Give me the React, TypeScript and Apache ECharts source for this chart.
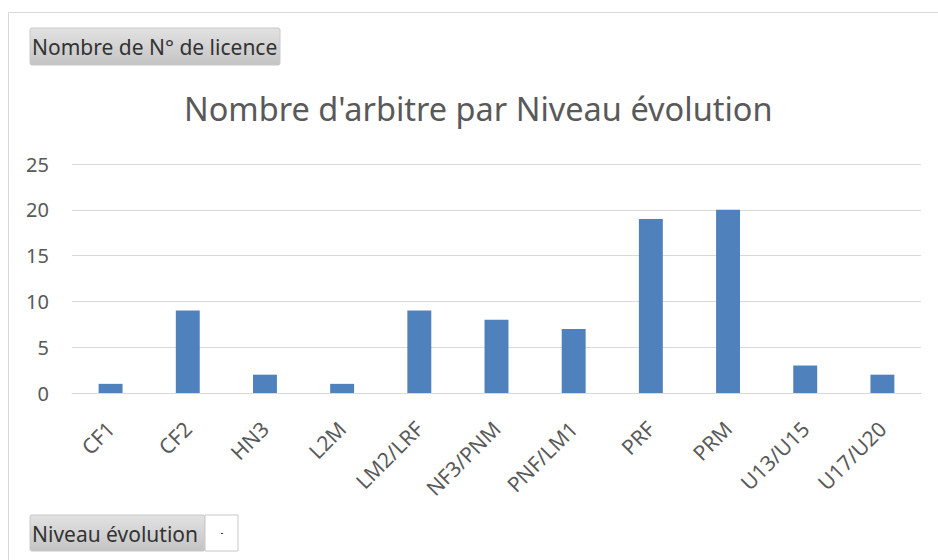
import React, { useEffect, useRef } from "react";
import * as echarts from "echarts";

const categories = ["CF1", "CF2", "HN3", "L2M", "LM2/LRF", "NF3/PNM", "PNF/LM1", "PRF", "PRM", "U13/U15", "U17/U20"];
const values = [1, 9, 2, 1, 9, 8, 7, 19, 20, 3, 2];
const yTicks = [0, 5, 10, 15, 20, 25];
const titleText = "Nombre d'arbitre par Niveau évolution";
const topButtonText = "Nombre de N° de licence";
const bottomButtonText = "Niveau évolution";

const FONT = "Noto Sans, DejaVu Sans, sans-serif";

export default function App() {
  const ref = useRef<HTMLDivElement>(null);
  useEffect(() => {
    if (!ref.current) return;
    const chart = echarts.init(ref.current, undefined, { renderer: "svg" });
    const grad = new echarts.graphic.LinearGradient(0, 0, 0, 1, [
      { offset: 0, color: "#e2e2e2" },
      { offset: 1, color: "#c4c4c4" },
    ]);
    chart.setOption({
      animation: false,
      backgroundColor: "#ffffff",
      title: {
        text: titleText,
        left: 179,
        top: 87,
        textStyle: { fontFamily: FONT, fontSize: 32.5, fontWeight: "normal", color: "#595959" },
      },
      grid: { left: 72, right: 17, top: 164, bottom: 167, containLabel: false },
      xAxis: {
        type: "category",
        data: categories,
        axisLine: { lineStyle: { color: "#d9d9d9", width: 1 } },
        axisTick: { show: false },
        axisLabel: {
          rotate: 45,
          interval: 0,
          color: "#595959",
          fontFamily: FONT,
          fontSize: 21,
          margin: 32,
        },
      },
      yAxis: {
        type: "value",
        min: yTicks[0],
        max: yTicks[yTicks.length - 1],
        interval: 5,
        axisLine: { show: false },
        axisTick: { show: false },
        splitLine: { lineStyle: { color: "#d9d9d9", width: 1 } },
        axisLabel: { color: "#595959", fontFamily: FONT, fontSize: 20, margin: 23 },
      },
      series: [
        {
          type: "bar",
          data: values,
          barWidth: "31%",
          itemStyle: { color: "#4f81bd" },
        },
      ],
      graphic: [
        {
          type: "line",
          shape: { x1: 8.5, y1: 12.5, x2: 938, y2: 12.5 },
          style: { stroke: "#d9d9d9", lineWidth: 1 },
        },
        {
          type: "line",
          shape: { x1: 8.5, y1: 12.5, x2: 8.5, y2: 560 },
          style: { stroke: "#d9d9d9", lineWidth: 1 },
        },
        {
          type: "rect",
          shape: { x: 30, y: 28, width: 250, height: 37, r: 2 },
          style: { fill: grad, stroke: "#c8c8c8", lineWidth: 1 },
        },
        {
          type: "text",
          x: 32,
          y: 47,
          style: { text: topButtonText, fontFamily: FONT, fontSize: 21, fill: "#333333", verticalAlign: "middle" },
        },
        {
          type: "rect",
          shape: { x: 30, y: 515, width: 175, height: 36, r: 2 },
          style: { fill: grad, stroke: "#c8c8c8", lineWidth: 1 },
        },
        {
          type: "text",
          x: 32,
          y: 534,
          style: { text: bottomButtonText, fontFamily: FONT, fontSize: 21, fill: "#333333", verticalAlign: "middle" },
        },
        {
          type: "rect",
          shape: { x: 205, y: 515, width: 33, height: 36 },
          style: { fill: "#ffffff", stroke: "#c8c8c8", lineWidth: 1 },
        },
        {
          type: "rect",
          shape: { x: 221, y: 533, width: 2, height: 1 },
          style: { fill: "#333333" },
        },
      ],
    });
    return () => chart.dispose();
  }, []);
  return <div ref={ref} style={{ position: "fixed", left: 0, top: 0, width: 938, height: 560 }} />;
}
